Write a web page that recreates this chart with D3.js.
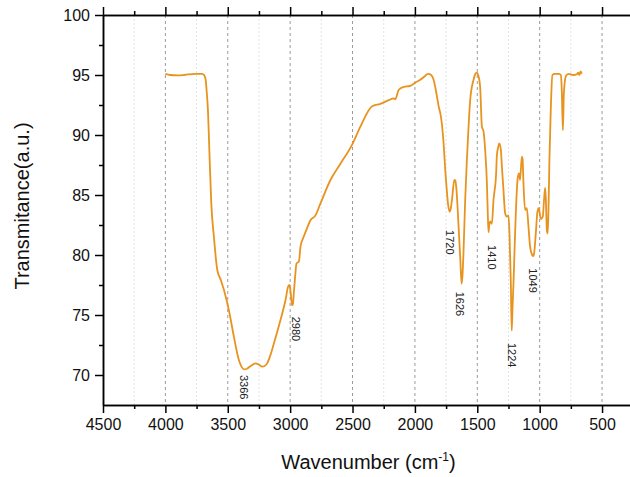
<!DOCTYPE html>
<html>
<head>
<meta charset="utf-8">
<script src="https://cdn.jsdelivr.net/npm/d3@7"></script>
<style>
  html, body { margin: 0; padding: 0; background: #fff; }
  svg { display: block; font-family: "Liberation Sans", Arial, sans-serif; }
</style>
</head>
<body>
<svg id="chart" width="630" height="477"></svg>
<script>
// ---- data ----
const wavenumber = [4000,3960,3900,3850,3760,3704,3690,3677,3668,3659,3650,3645,3632,3611,3584,3555,3531,3491,3451,3411,3390,3371,3350,3317,3277,3250,3224,3205,3184,3160,3131,3077,3037,3015,3005,2995,2985,2978,2970,2960,2949,2930,2917,2900,2877,2837,2797,2757,2677,2597,2503,2437,2343,2277,2210,2170,2157,2130,2090,2037,1997,1957,1920,1895,1870,1850,1837,1823,1810,1791,1770,1757,1749,1735,1722,1712,1703,1684,1676,1669,1650,1636,1626,1618,1610,1597,1583,1570,1557,1530,1515,1505,1490,1477,1463,1450,1437,1423,1416,1410,1403,1396,1383,1370,1349,1343,1330,1324,1311,1303,1290,1277,1263,1250,1242,1231,1224,1217,1210,1197,1183,1175,1165,1157,1143,1137,1130,1117,1103,1090,1077,1060,1050,1045,1031,1018,1007,991,975,965,956,950,942,935,928,922,911,898,880,845,830,822,814,806,790,770,730,703,690,682,671,663];
const transmittance = [95.1,95.0,94.97,95.0,95.1,95.1,95.0,94.6,93.5,92.1,89.5,87.9,84.3,81.5,78.75,77.9,77.1,75.4,73.2,71.25,70.7,70.47,70.5,70.75,70.97,70.85,70.7,70.75,70.97,71.6,72.6,74.6,76.25,77.4,77.5,76.8,75.8,75.9,76.9,78.2,79.3,79.45,80.7,81.3,81.9,82.9,83.3,84.3,86.25,87.6,89.2,90.7,92.4,92.6,92.9,93.05,92.97,93.75,94.0,94.1,94.36,94.6,94.9,95.1,95.0,94.6,94.0,93.2,92.4,91.5,89.3,87.1,86.0,84.3,83.6,83.9,84.6,86.25,86.2,85.7,82.4,79.6,77.6,78.4,80.4,84.6,88.0,90.7,92.9,94.6,95.1,95.2,94.9,94.0,90.7,90.3,88.75,86.0,83.5,81.9,82.6,82.8,82.6,84.6,86.8,88.3,89.1,89.3,88.75,87.4,85.4,83.5,83.2,83.3,81.8,77.6,73.7,75.8,77.6,81.8,85.4,86.5,86.8,86.25,88.2,88.0,86.0,83.75,83.9,82.4,80.7,80.0,79.9,80.1,81.8,83.6,83.9,83.0,83.2,84.6,85.6,84.5,82.0,81.8,84.5,87.9,92.1,95.0,95.1,95.1,95.0,93.5,90.4,93.5,94.9,95.1,95.0,95.05,95.2,95.0,95.3,95.1];

// peak annotations: label text, wavenumber and transmittance at which the label starts
const peakLabels = ["3366","2980","1720","1626","1410","1224","1049"];
const peakLabelWn = [3373,2951,1722,1636,1383,1223,1050];
const peakLabelT = [70.0,74.86,82.08,76.94,80.83,72.67,78.89];

const xMajorTicks = [4500,4000,3500,3000,2500,2000,1500,1000,500];
const xMinorTicks = [4250,3750,3250,2750,2250,1750,1250,750];
const yMajorTicks = [70,75,80,85,90,95,100];
const yMinorTicks = [72.5,77.5,82.5,87.5,92.5,97.5];

const xTitle = "Wavenumber (cm";
const xTitleSup = "-1";
const yTitle = "Transmitance(a.u.)";

// ---- layout ----
const mLeft = 103, mRight = 630, mTop = 15, mBottom = 405;
const x = d3.scaleLinear().domain([4500, 276]).range([mLeft, mRight]);
const y = d3.scaleLinear().domain([67.5, 100]).range([mBottom, mTop]);

const svg = d3.select("#chart");

// grid lines
const grid = svg.append("g");
grid.selectAll("line.minor").data(xMinorTicks).join("line")
  .attr("class", "minor")
  .attr("x1", d => x(d)).attr("x2", d => x(d))
  .attr("y1", mTop).attr("y2", mBottom)
  .attr("stroke", "#e2e2e2").attr("stroke-width", 1).attr("stroke-dasharray", "2,2");
grid.selectAll("line.major").data(xMajorTicks.filter(d => d !== 4500)).join("line")
  .attr("class", "major")
  .attr("x1", d => x(d)).attr("x2", d => x(d))
  .attr("y1", mTop).attr("y2", mBottom)
  .attr("stroke", "#9a9a9a").attr("stroke-width", 1).attr("stroke-dasharray", "3,3");

// spectrum line
const pts = wavenumber.map((w, i) => [w, transmittance[i]]);
const line = d3.line().x(d => x(d[0])).y(d => y(d[1])).curve(d3.curveMonotoneX);
svg.append("path").datum(pts)
  .attr("d", line)
  .attr("fill", "none")
  .attr("stroke", "#E8931E")
  .attr("stroke-width", 1.8)
  .attr("stroke-linejoin", "round");

// annotations
peakLabels.forEach((t, i) => {
  const px = x(peakLabelWn[i]), py = y(peakLabelT[i]);
  svg.append("text")
    .attr("transform", `translate(${px},${py}) rotate(90)`)
    .attr("dominant-baseline", "central")
    .attr("font-size", 11)
    .attr("fill", "#222")
    .text(t);
});

// axes
function styleAxis(g) {
  g.select(".domain").attr("stroke", "#000").attr("stroke-width", 1.5);
  g.selectAll(".tick line").attr("stroke", "#000").attr("stroke-width", 1.5);
}
const xAxisB = svg.append("g").attr("transform", `translate(0,${mBottom})`)
  .call(d3.axisBottom(x).tickValues(xMajorTicks).tickSize(8).tickSizeOuter(0).tickPadding(6).tickFormat(d3.format("d")));
styleAxis(xAxisB);
xAxisB.selectAll("text").attr("font-size", 16).attr("fill", "#111").attr("font-family", "Liberation Sans, Arial, sans-serif");
const xAxisBm = svg.append("g").attr("transform", `translate(0,${mBottom})`)
  .call(d3.axisBottom(x).tickValues(xMinorTicks).tickSize(4).tickSizeOuter(0).tickFormat(""));
styleAxis(xAxisBm);
const xAxisT = svg.append("g").attr("transform", `translate(0,${mTop})`)
  .call(d3.axisTop(x).tickValues(xMajorTicks).tickSize(8).tickSizeOuter(0).tickFormat(""));
styleAxis(xAxisT);
const xAxisTm = svg.append("g").attr("transform", `translate(0,${mTop})`)
  .call(d3.axisTop(x).tickValues(xMinorTicks).tickSize(4).tickSizeOuter(0).tickFormat(""));
styleAxis(xAxisTm);
const yAxis = svg.append("g").attr("transform", `translate(${mLeft},0)`)
  .call(d3.axisLeft(y).tickValues(yMajorTicks).tickSize(8).tickSizeOuter(0).tickPadding(5).tickFormat(d3.format("d")));
styleAxis(yAxis);
yAxis.selectAll("text").attr("font-size", 16).attr("fill", "#111").attr("font-family", "Liberation Sans, Arial, sans-serif");
const yAxisM = svg.append("g").attr("transform", `translate(${mLeft},0)`)
  .call(d3.axisLeft(y).tickValues(yMinorTicks).tickSize(4).tickSizeOuter(0).tickFormat(""));
styleAxis(yAxisM);

// titles
const xt = svg.append("text")
  .attr("x", (mLeft + mRight) / 2 + 2).attr("y", 469)
  .attr("text-anchor", "middle")
  .attr("font-size", 20).attr("fill", "#111");
xt.append("tspan").text(xTitle);
xt.append("tspan").attr("dy", -8).attr("font-size", 12).text(xTitleSup);
xt.append("tspan").attr("dy", 8).text(")");

svg.append("text")
  .attr("transform", `translate(29,206) rotate(-90)`)
  .attr("text-anchor", "middle")
  .attr("font-size", 20).attr("fill", "#111")
  .text(yTitle);
</script>
</body>
</html>
